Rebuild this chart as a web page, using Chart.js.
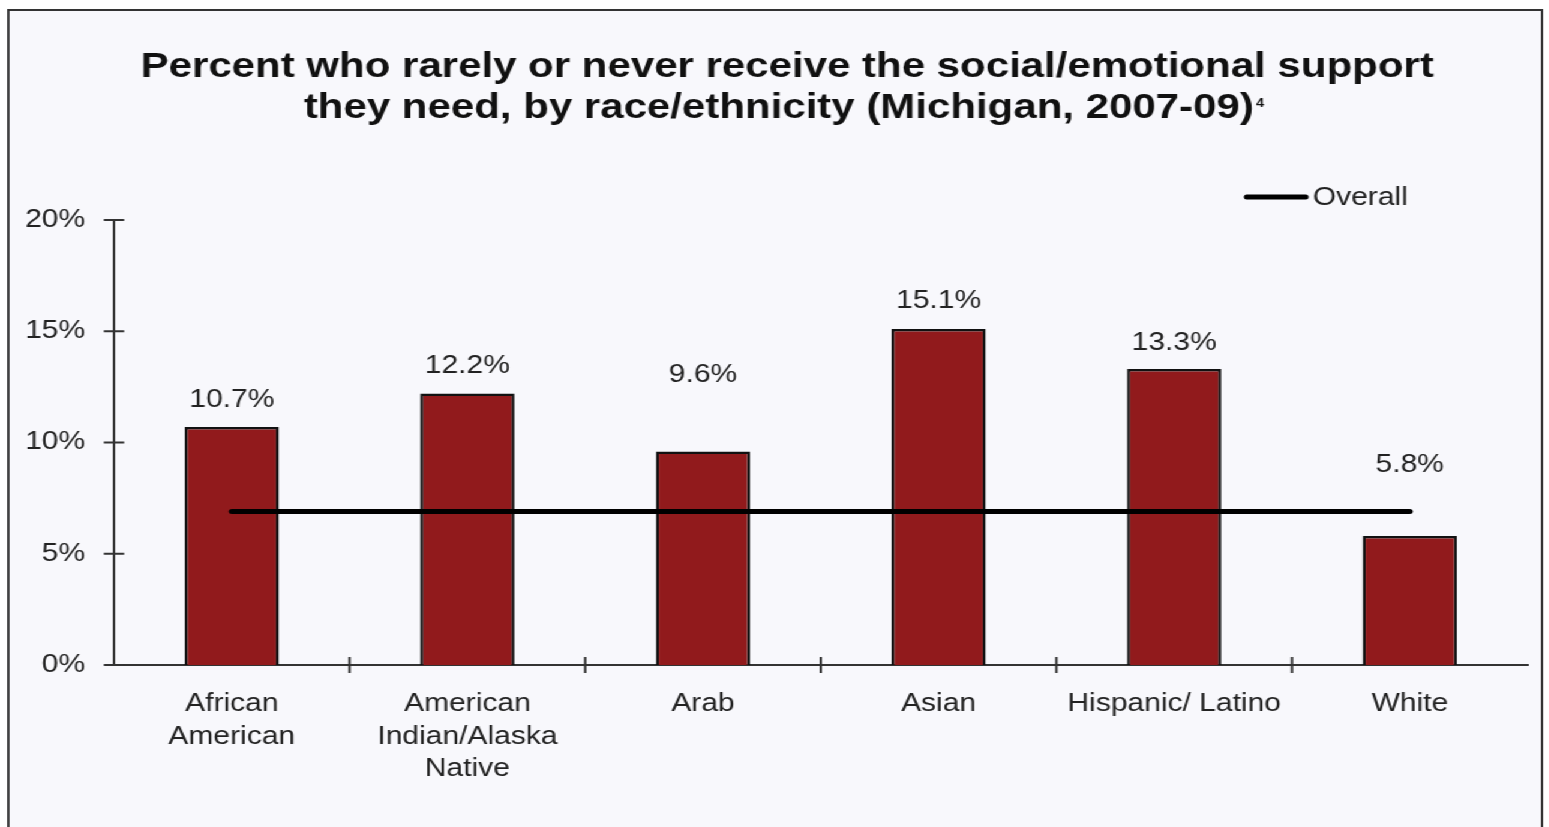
<!DOCTYPE html>
<html>
<head>
<meta charset="utf-8">
<script src="https://cdn.jsdelivr.net/npm/chart.js@4.4.1/dist/chart.umd.min.js"></script>
<style>
  html, body { margin: 0; padding: 0; background: #ffffff; overflow: hidden; }
  /* the slide is laid out narrow and stretched sideways */
  #slide { position: absolute; left: 0; top: 0; width: 1291px; height: 827px;
           transform: scaleX(1.2); transform-origin: 0 0; }
  #frame { position: absolute; left: 6px; top: 9px; width: 1276px; height: 840px;
           border: 2px solid #333; background: #f8f8fc; }
  #chart { position: absolute; left: 0; top: 0; width: 1291px; height: 827px; }
</style>
</head>
<body>
<div id="slide">
  <div id="frame"></div>
  <canvas id="chart" width="1291" height="827"></canvas>
</div>
<script>
// categorías y valores
const categorias = [
    ['African', 'American'],
    ['American', 'Indian/Alaska', 'Native'],
    ['Arab'],
    ['Asian'],
    ['Hispanic/ Latino'],
    ['White']
];
const porcentajes = [10.7, 12.2, 9.6, 15.1, 13.3, 5.8];
const overall = [6.9, 6.9, 6.9, 6.9, 6.9, 6.9];
const yTicks = [0, 5, 10, 15, 20];

const tituloLineas = [
    'Percent who rarely or never receive the social/emotional support',
    'they need, by race/ethnicity (Michigan, 2007-09)'
];
const nota = '4';
const leyenda = 'Overall';

// altura de cada etiqueta sobre su barra (px)
const elevacion = [27, 27, 76, 28, 26, 71];

const FONT = "'Liberation Sans', Arial, sans-serif";

// Plugin para dibujar título, leyenda, marcas de los ejes y etiquetas
const extras = {
    id: 'extras',
    afterDatasetsDraw(chart) {
        const ctx = chart.ctx;
        const meta = chart.getDatasetMeta(1);
        ctx.save();
        ctx.font = '25px ' + FONT;
        ctx.fillStyle = '#222';
        ctx.textAlign = 'center';
        ctx.textBaseline = 'middle';
        meta.data.forEach((bar, i) => {
            ctx.fillText(porcentajes[i].toFixed(1) + '%', bar.x, bar.y - elevacion[i]);
        });
        ctx.restore();
    },
    afterDraw(chart) {
        const ctx = chart.ctx;
        const x = chart.scales.x;
        const y = chart.scales.y;
        const area = chart.chartArea;
        ctx.save();

        // marcas cruzadas del eje y
        ctx.strokeStyle = '#333';
        ctx.lineWidth = 2;
        yTicks.forEach(v => {
            const py = y.getPixelForValue(v);
            ctx.beginPath();
            ctx.moveTo(area.left - 8.5, py);
            ctx.lineTo(area.left + 8.5, py);
            ctx.stroke();
        });
        // marcas entre categorías en el eje x
        for (let i = 1; i < categorias.length; i++) {
            const px = (x.getPixelForValue(i - 1) + x.getPixelForValue(i)) / 2;
            ctx.beginPath();
            ctx.moveTo(px, area.bottom - 8);
            ctx.lineTo(px, area.bottom + 8);
            ctx.stroke();
        }

        // título
        ctx.fillStyle = '#111';
        ctx.font = 'bold 35px ' + FONT;
        ctx.textAlign = 'center';
        ctx.textBaseline = 'alphabetic';
        ctx.fillText(tituloLineas[0], 656, 77);
        ctx.fillText(tituloLineas[1], 649, 118);
        const w2 = ctx.measureText(tituloLineas[1]).width;
        ctx.font = 'bold 12px ' + FONT;
        ctx.textAlign = 'left';
        ctx.fillText(nota, 649 + w2 / 2 + 2, 107);

        // leyenda
        ctx.strokeStyle = '#000';
        ctx.lineWidth = 5;
        ctx.lineCap = 'round';
        ctx.beginPath();
        ctx.moveTo(1039, 197);
        ctx.lineTo(1088, 197);
        ctx.stroke();
        ctx.fillStyle = '#222';
        ctx.font = '25px ' + FONT;
        ctx.textBaseline = 'middle';
        ctx.fillText(leyenda, 1094, 198);
        ctx.restore();
    }
};

const ctx = document.getElementById('chart').getContext('2d');
const chart = new Chart(ctx, {
    data: {
        labels: categorias,
        datasets: [
            {
                type: 'line',
                label: leyenda,
                data: overall,
                borderColor: '#000',
                borderWidth: 5,
                borderCapStyle: 'round',
                pointRadius: 0,
                order: 0
            },
            {
                type: 'bar',
                label: 'Percent',
                data: porcentajes,
                backgroundColor: '#911a1c',
                borderColor: '#111',
                borderWidth: 2.5,
                barPercentage: 0.4,
                categoryPercentage: 1.0,
                order: 1
            }
        ]
    },
    options: {
        responsive: false,
        animation: false,
        layout: { padding: { top: 220, right: 18, bottom: 0, left: 0 } },
        scales: {
            x: {
                grid: { display: false, drawTicks: false },
                border: { display: true, color: '#333', width: 2 },
                ticks: {
                    color: '#222',
                    font: { family: FONT, size: 25, lineHeight: 1.3 },
                    padding: 23,
                    maxRotation: 0,
                    autoSkip: false
                },
                afterFit: scale => { scale.height = 162; }
            },
            y: {
                min: 0,
                max: 20,
                grid: { display: false, drawTicks: false },
                border: { display: true, color: '#333', width: 2 },
                ticks: {
                    stepSize: 5,
                    color: '#222',
                    font: { family: FONT, size: 25 },
                    padding: 24,
                    callback: v => v + '%'
                },
                afterFit: scale => { scale.width = 95; }
            }
        },
        plugins: {
            legend: { display: false },
            title: { display: false },
            tooltip: { enabled: false }
        }
    },
    plugins: [extras]
});
</script>
</body>
</html>
